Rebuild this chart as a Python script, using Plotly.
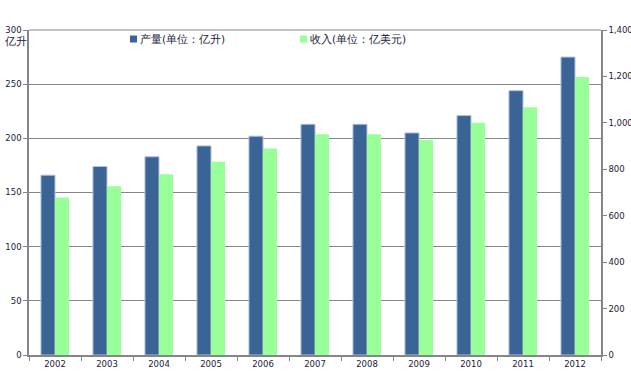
import plotly.graph_objects as go

years = ["2002", "2003", "2004", "2005", "2006", "2007", "2008", "2009", "2010", "2011", "2012"]
production = [166, 174, 183, 193, 202, 213, 213, 205, 221, 244, 275]
revenue = [678, 727, 779, 832, 890, 951, 951, 926, 1000, 1067, 1198]
prod_name = "产量(单位：亿升)"
rev_name = "收入(单位：亿美元)"
y_unit = "亿升"

font_fam = "DejaVu Sans, Verdana, sans-serif"
txt_col = "#1a1a3a"
axis_col = "#868686"
blue = "#3b6496"
green = "#99ff99"

W, H = 631, 378
L, R, T, B = 29, 30, 30, 23
pw, ph = W - L - R, H - T - B


def px_x(x):
    return (x - L) / pw


def px_y(y):
    return (H - B - y) / ph


fig = go.Figure()
fig.add_trace(go.Bar(
    x=years, y=production, name=prod_name, yaxis="y", showlegend=False,
    offsetgroup="a", marker=dict(color=blue, line=dict(color="#b4c0da", width=1)),
))
fig.add_trace(go.Bar(
    x=years, y=revenue, name=rev_name, yaxis="y2", showlegend=False,
    offsetgroup="b", marker=dict(color=green, line=dict(width=0)),
))

shapes = [dict(type="line", xref="paper", yref="paper", x0=0, x1=1, y0=1, y1=1,
               line=dict(color=axis_col, width=1))]
annotations = [dict(
    text=y_unit, xref="paper", yref="paper", x=px_x(2), y=px_y(41),
    xanchor="left", yanchor="middle", showarrow=False,
    font=dict(size=10.5, color=txt_col),
)]
# legend entries (square + label)
for sq_x, col, name in [(130, blue, prod_name), (300, green, rev_name)]:
    shapes.append(dict(type="rect", xref="paper", yref="paper",
                       x0=px_x(sq_x), x1=px_x(sq_x + 7), y0=px_y(35.5), y1=px_y(42.5),
                       fillcolor=col, line=dict(width=0)))
    annotations.append(dict(text=name, xref="paper", yref="paper",
                            x=px_x(sq_x + 8), y=px_y(39), xanchor="left", yanchor="middle",
                            showarrow=False, font=dict(size=10.5, color=txt_col)))

fig.update_layout(
    width=W, height=H,
    margin=dict(l=L, r=R, t=T, b=B, autoexpand=False),
    paper_bgcolor="white", plot_bgcolor="white",
    barmode="group", bargap=0.46, bargroupgap=0,
    font=dict(family=font_fam, size=9, color=txt_col),
    showlegend=False,
    xaxis=dict(
        type="category", showline=True, linecolor=axis_col, linewidth=1.5,
        ticks="outside", tickson="boundaries", ticklen=4, tickcolor=axis_col,
        showgrid=False, tickfont=dict(size=8.5, color=txt_col), automargin=False,
    ),
    yaxis=dict(
        range=[0, 300], dtick=50, showline=True, linecolor=axis_col, linewidth=1.5,
        ticks="outside", ticklen=4, tickcolor=axis_col,
        showgrid=True, gridcolor=axis_col, gridwidth=1,
        tickfont=dict(size=8.5, color=txt_col), zeroline=False, automargin=False,
    ),
    yaxis2=dict(
        range=[0, 1400], dtick=200, overlaying="y", side="right",
        showline=True, linecolor=axis_col, linewidth=1.5,
        ticks="outside", ticklen=4, tickcolor=axis_col, showgrid=False,
        tickformat=",d", tickfont=dict(size=8.5, color=txt_col), zeroline=False,
        automargin=False,
    ),
    annotations=annotations,
    shapes=shapes,
)

fig.write_html(
    "out.html",
    config={"displayModeBar": False},
    post_script="document.body.style.margin='0';document.body.style.overflow='hidden';",
)
